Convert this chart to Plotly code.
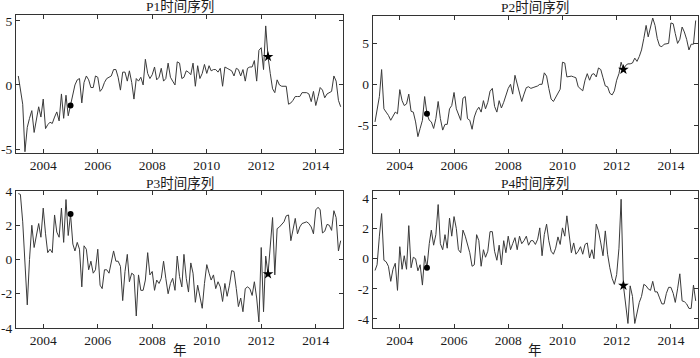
import pandas as pd
import plotly.graph_objects as go

# monthly dates, Feb 2003 .. Dec 2014
dates = pd.date_range("2003-02-01", periods=143, freq="MS")

p1 = [0.7, -0.3, -1.5, -5.2, -3.3, -2.6, -2.0, -3.7, -2.8, -1.7, -2.5, -1.1,
      -3.4, -3.1, -2.9, -3.0, -2.5, -2.1, -2.8, -0.7, -2.6, -0.8, -2.4, -1.6,
      -0.6, 0.0, 0.4, 0.5, -1.4, 0.2, 0.7, 0.4, -0.2, -0.2, 0.7, 0.6,
      -0.5, -0.3, 0.2, 0.5, 0.6, 0.7, 1.2, 1.2, 0.6, -0.4, 1.0, 1.0,
      0.3, 1.1, 0.2, -1.1, 0.5, 0.3, 0.6, 0.0, 2.0, 0.9, 0.5, 0.8,
      1.4, 0.4, 0.6, 1.3, 0.3, 0.5, 1.7, 0.6, 0.3, 0.0, 1.8, 1.7,
      0.5, 0.6, 1.1, 1.0, 0.8, 1.7, -0.1, 1.5, 0.5, 0.9, 1.6, 0.9,
      1.5, 1.1, 1.2, 1.2, 1.0, 1.3, -0.1, 1.4, 1.3, 1.2, 1.1, 0.7,
      1.3, 1.2, 0.7, 1.2, 0.3, 1.3, 1.4, 1.4, 1.9, 0.3, 2.7, 2.9,
      1.2, 4.6, 2.2, 0.9, -0.3, -0.6, 0.4, 0.0, -0.1, -0.1, -0.1, -1.5,
      -1.4, -1.2, -0.9, -0.9, -0.9, -0.6, -0.6, -0.6, -0.7, -1.3, -0.5, -1.6,
      -0.9, -0.2, -0.4, -1.0, -0.7, -0.6, -0.5, 0.7, 0.3, -1.2, -1.7]

p2 = [-4.6, -3.2, -1.5, 1.8, -3.0, -3.4, -3.8, -4.4, -3.9, -3.4, -3.6, -0.65,
      -2.0, -2.6, -2.4, -1.2, -3.3, -3.4, -4.6, -6.4, -5.4, -4.4, -1.5, -3.6,
      -4.4, -4.6, -5.4, -4.2, -2.1, -4.2, -5.6, -4.9, -4.9, -3.0, -2.6, -1.0,
      -3.0, -3.8, -4.4, -1.7, -1.5, -4.2, -4.4, -5.5, -4.0, -3.2, -2.8, -3.4,
      -2.0, -3.0, -2.2, -0.85, -0.5, -2.7, -3.4, -2.0, -2.9, -2.2, -1.3, -0.5,
      0.0, -1.2, 1.1, 0.1, -1.2, -2.1, -1.2, -0.4, -0.3, -0.5, -0.4, -0.3,
      -0.2, 0.0, 0.0, 1.4, 1.0, -0.5, -1.8, -2.1, -1.6, -1.0, -0.6, 2.7,
      2.6, 0.9, 1.0, 1.0, 0.9, 0.8, -0.3, -0.6, -0.8, 0.5, 1.3, 0.5,
      1.2, 1.3, 0.9, 2.0, 1.8, 0.8, -0.2, -0.3, -1.1, -1.3, -0.8, 0.5,
      1.3, 2.7, 1.8, 2.3, 2.5, 2.5, 2.6, 3.2, 2.8, 3.4, 4.2, 5.6,
      7.2, 5.8, 7.0, 8.1, 7.2, 5.6, 4.7, 4.6, 4.9, 5.0, 5.0, 7.5,
      7.4, 6.2, 5.0, 5.5, 7.0, 6.4, 5.5, 4.2, 4.9, 4.9, 7.8]

p3 = [3.85, 3.8, 2.2, -0.5, -2.65, 0.0, 2.0, 0.7, 1.5, 2.1, 1.3, 3.0,
      1.5, 0.4, 0.6, 0.4, 2.6, 1.6, 1.3, 3.0, 1.0, 3.5, 1.4, 2.65,
      0.9, 0.5, 1.0, 0.6, -1.6, 0.8, 0.6, -0.6, -0.1, -0.8, -0.6, 0.6,
      -1.5, -1.7, -0.6, -0.6, -0.8, -0.1, 0.5, -0.1, -0.1, -0.4, -2.4, -0.7,
      0.3, -1.3, -0.8, -0.9, -3.3, -0.9, -1.8, -1.8, -1.2, 0.4, -0.9, -0.7,
      -1.8, -1.2, -1.4, -1.1, -0.1, -1.1, -2.0, -1.4, -1.1, -1.8, 0.2, -1.0,
      -1.6, 0.3, -1.1, -1.9, -0.2, -0.8, -2.5, -1.5, -2.25, -2.85, -1.4, -0.3,
      -0.8, -1.2, -0.9, -1.7, -1.3, -1.6, -2.45, -1.4, -2.15, -1.5, -0.65, -0.7,
      -1.7, -2.75, -2.25, -3.05, -1.7, -1.6, -1.7, -2.1, -1.3, -2.25, -3.65, 0.7,
      -3.05, 0.2, -0.85, 0.8, 2.45, -0.9, 1.8, 1.9, 2.05, 2.2, 2.55, 2.6,
      1.1, 1.8, 2.4, 1.5, 1.9, 2.1, 2.15, 2.2, 2.1, 1.9, 1.5, 2.9,
      3.05, 2.9, 1.55, 1.65, 2.05, 2.0, 1.7, 2.85, 2.45, 0.5, 1.1]

p4 = [-0.78, -0.4, 1.5, 3.0, -0.1, -0.2, -0.5, -1.5, -0.7, -0.3, -2.1, 0.8,
      -0.7, 0.2, -0.7, 2.2, -0.6, 0.1, 0.0, -0.8, -0.4, -1.75, 0.2, -0.6,
      1.0, 1.9, 0.9, 1.6, 3.6, 1.0, 0.6, 1.6, 0.7, 2.7, 1.5, 2.8,
      2.0, 0.6, 0.4, 1.9, 1.5, 1.0, 0.4, -0.5, -0.4, 1.6, 1.2, -0.5,
      0.6, 0.1, 0.5, 1.8, 1.8, 0.5, -0.1, 0.9, -0.4, 1.2, 0.4, 1.5,
      0.6, 1.0, 1.4, 0.6, 1.5, 1.0, 1.2, 1.5, 0.9, 1.2, 1.2,
      0.95, 1.3, 2.05, 0.2, 1.6, 2.3, 1.2, 0.5, 0.3, 0.7, 1.45, 0.95, 2.05,
      1.5, 2.85, 1.6, 0.4, 1.05, 0.3, 0.5, 0.8, 0.3, 0.95, 1.05, 0.05,
      0.6, 0.0, 2.3, 1.85, 1.05, 0.2, 1.85, 0.3, -0.6, -1.3, -1.7, -1.05,
      0.7, 3.95, -1.78, -3.0, -4.3, -1.8, -2.5, -4.3, -3.6, -2.9, -2.5, -1.7,
      -1.8, -2.0, -2.1, -1.5, -2.2, -2.2, -2.6, -3.0, -3.0, -2.3, -1.9,
      -1.9, -2.3, -2.9, -2.0, -1.0, -2.8, -2.85, -3.0, -3.3, -3.3, -1.75, -2.8]

titles = ["P1时间序列", "P2时间序列", "P3时间序列", "P4时间序列"]
series = [p1, p2, p3, p4]
circle_idx = 23   # Jan 2005
star_idx = 110    # Apr 2012

x_tickvals = ["%d-01-01" % y for y in range(2004, 2015, 2)]
x_ticktext = [str(y) for y in range(2004, 2015, 2)]
y_ticks = [[-5, 0, 5], [-5, 0, 5], [-4, -2, 0, 2, 4], [-4, -2, 0, 2, 4]]
y_ranges = [[-5.3, 5.45], [-8.4, 8.35], [-4, 4], [-4.6, 4.5]]

W, H = 700, 358
px_boxes = [(16, 343, 15, 153), (372.7, 698, 16, 153),
            (16, 343, 191, 328), (372.7, 698, 191, 328)]

serif = "Liberation Serif, Times New Roman, Noto Sans CJK SC, serif"
tickfont = dict(family=serif, size=13.5, color="#1a1a1a")

fig = go.Figure()
layout = dict(width=W, height=H, margin=dict(l=0, r=0, t=0, b=0, autoexpand=False),
              paper_bgcolor="white", plot_bgcolor="white", showlegend=False,
              annotations=[])

for k in range(4):
    n = "" if k == 0 else str(k + 1)
    xa, ya = "x" + n, "y" + n
    s = series[k]
    fig.add_trace(go.Scatter(x=dates, y=s, mode="lines", xaxis=xa, yaxis=ya,
                             line=dict(color="#3a3a3a", width=1)))
    fig.add_trace(go.Scatter(x=[dates[circle_idx]], y=[s[circle_idx]], mode="markers",
                             xaxis=xa, yaxis=ya,
                             marker=dict(symbol="circle", size=6, color="black")))
    fig.add_trace(go.Scatter(x=[dates[star_idx]], y=[s[star_idx]], mode="markers",
                             xaxis=xa, yaxis=ya,
                             marker=dict(symbol="star", size=8, color="black")))
    x0, x1, y0, y1 = px_boxes[k]
    layout["xaxis" + n] = dict(
        domain=[x0 / W, x1 / W], anchor=ya, range=["2003-01-01", "2015-01-01"],
        tickvals=x_tickvals, ticktext=x_ticktext, ticks="inside", ticklen=4,
        tickcolor="#333", showline=True, linecolor="#333", linewidth=1, mirror="ticks",
        showgrid=False, zeroline=False, tickfont=tickfont, automargin=False)
    layout["yaxis" + n] = dict(
        domain=[1 - y1 / H, 1 - y0 / H], anchor=xa, range=y_ranges[k],
        tickvals=y_ticks[k], ticktext=[str(v) for v in y_ticks[k]],
        ticks="inside", ticklen=4, tickcolor="#333", showline=True, linecolor="#333",
        linewidth=1, mirror="ticks", showgrid=False, zeroline=False, tickfont=tickfont,
        automargin=False)
    layout["annotations"].append(dict(
        text=titles[k], x=(x0 + x1) / 2 / W, y=1 - (y0 - 8) / H, xref="paper", yref="paper",
        showarrow=False, xanchor="center", yanchor="middle",
        font=dict(family=serif, size=13.5, color="#1a1a1a")))
    if k >= 2:
        layout["annotations"].append(dict(
            text="年", x=(x0 + x1) / 2 / W, y=1 - 350 / H, xref="paper", yref="paper",
            showarrow=False, xanchor="center", yanchor="middle",
            font=dict(family=serif, size=13.5, color="#1a1a1a")))

fig.update_layout(**layout)
fig.write_html("out.html", config={"displayModeBar": False},
               post_script="document.body.style.margin='0';document.body.style.overflow='hidden';")
